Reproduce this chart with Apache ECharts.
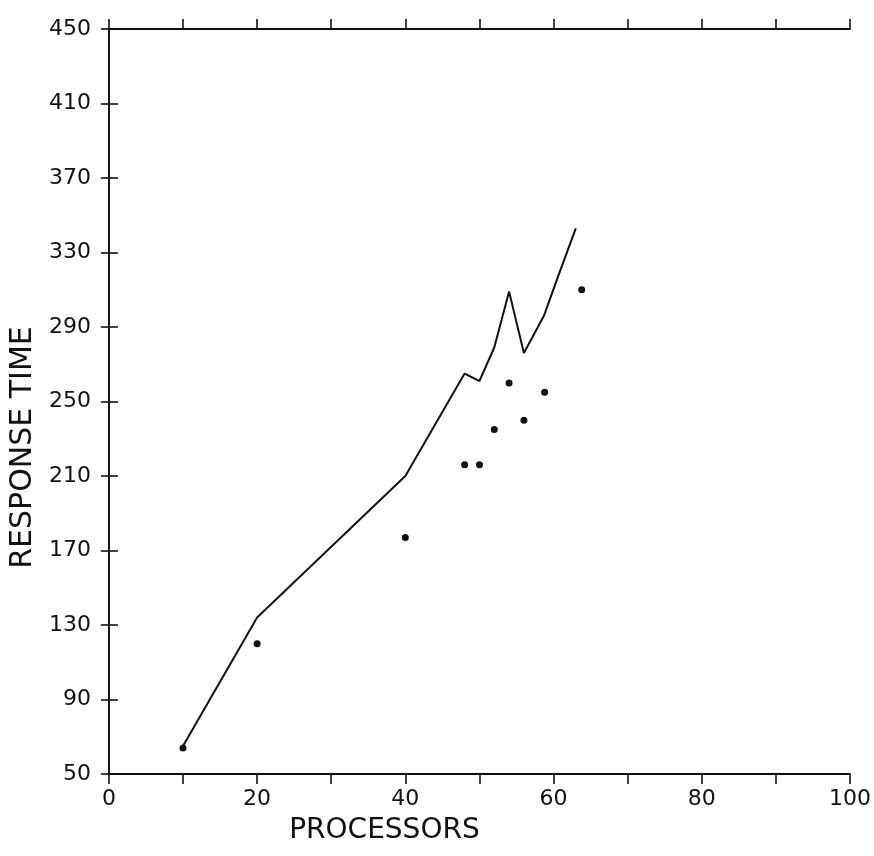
<!DOCTYPE html>
<html>
<head>
<meta charset="utf-8">
<title>Response time vs processors</title>
<script src="https://cdn.jsdelivr.net/npm/echarts@6/dist/echarts.min.js"></script>
<style>
  html, body { margin: 0; padding: 0; background: #fff; }
  #chart { width: 874px; height: 856px; }
</style>
</head>
<body>
<div id="chart"></div>
<script>
// Response time of the simulated system as the processor count grows
const lineProcessors = [10, 20, 40, 48, 50, 52, 54, 56, 58.7, 60.6, 63];
const lineResponse   = [65, 134, 210, 265, 261, 279, 309, 276, 296, 317, 343];

// Measured response times (dots)
const dotProcessors = [10, 20, 40, 48, 50, 52, 54, 56, 58.8, 63.8];
const dotResponse   = [64, 120, 177, 216, 216, 235, 260, 240, 255, 310];

// Axis ranges and tick spacing
const xMin = 0, xMax = 100, xStep = 10, xLabelStep = 20;
const yMin = 50, yMax = 450, yStep = 40;

const fontFamily = '"DejaVu Sans", "Liberation Sans", sans-serif';
const ink = '#111';

const chart = echarts.init(document.getElementById('chart'), null, { renderer: 'canvas' });

const frameAxis = { show: true, lineStyle: { color: ink, width: 1.8 } };
const outTick = (len) => ({ show: true, inside: false, length: len, lineStyle: { color: ink, width: 1.6 } });

chart.setOption({
  animation: false,
  backgroundColor: '#ffffff',
  grid: { left: 108, right: 17, top: 29, bottom: 82, containLabel: false },
  xAxis: [
    {
      type: 'value', position: 'bottom', min: xMin, max: xMax, interval: xStep,
      axisLine: frameAxis, axisTick: outTick(10), splitLine: { show: false },
      axisLabel: {
        color: ink, fontFamily, fontSize: 22, margin: 14,
        formatter: v => (v % xLabelStep === 0 ? String(v) : '')
      },
      name: 'PROCESSORS', nameLocation: 'middle', nameGap: 43,
      nameTextStyle: { color: ink, fontFamily, fontSize: 28, padding: [0, 190, 0, 0] }
    },
    {
      type: 'value', position: 'top', min: xMin, max: xMax, interval: xStep,
      axisLine: frameAxis, axisTick: outTick(10), splitLine: { show: false },
      axisLabel: { show: false }
    }
  ],
  yAxis: [
    {
      type: 'value', position: 'left', min: yMin, max: yMax, interval: yStep,
      axisLine: frameAxis, axisTick: outTick(8), splitLine: { show: false },
      axisLabel: { color: ink, fontFamily, fontSize: 22, margin: 18 },
      name: 'RESPONSE TIME', nameLocation: 'middle', nameGap: 70,
      nameTextStyle: { color: ink, fontFamily, fontSize: 30, padding: [0, 92, 0, 0] }
    },
    {
      type: 'value', position: 'right', min: yMin, max: yMax, interval: yStep,
      axisLine: frameAxis, axisTick: outTick(9), splitLine: { show: false },
      axisLabel: { show: false }
    }
  ],
  series: [
    {
      type: 'line',
      data: lineProcessors.map((p, i) => [p, lineResponse[i]]),
      showSymbol: false,
      lineStyle: { color: ink, width: 2 },
      z: 2
    },
    {
      type: 'scatter',
      data: dotProcessors.map((p, i) => [p, dotResponse[i]]),
      symbol: 'circle', symbolSize: 7,
      itemStyle: { color: ink, opacity: 1 },
      z: 3
    }
  ]
});
</script>
</body>
</html>
